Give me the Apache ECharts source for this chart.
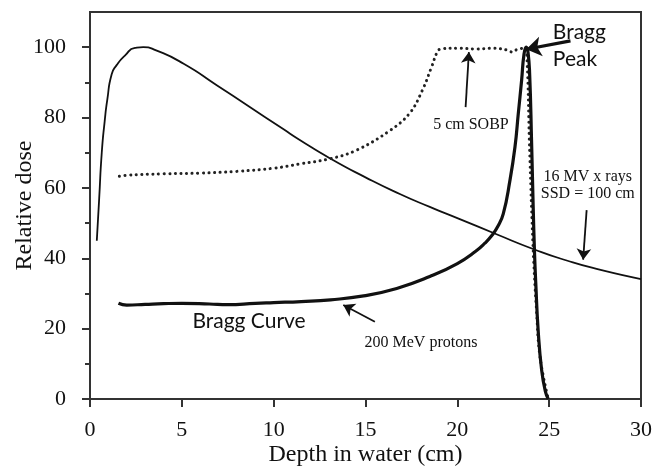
<!DOCTYPE html>
<html><head><meta charset="utf-8">
<script src="https://cdn.jsdelivr.net/npm/echarts@6/dist/echarts.min.js"></script>
<style>html,body{margin:0;padding:0;background:#fff}#c{width:656px;height:469px}</style>
</head><body><div id="c"></div>
<script>
// ---- data ----
const xTicks = [0, 5, 10, 15, 20, 25, 30];
const yTicks = [0, 20, 40, 60, 80, 100];
const yMinorTicks = [10, 30, 50, 70, 90];

// 16 MV x rays, SSD = 100 cm  [depth cm, relative dose]
const xray = [[0.37,45],[0.5,57],[0.64,70],[0.8,79],[0.94,85],[1.18,92.3],[1.45,94.9],[1.9,97.6],[2.45,99.8],[2.9,100],[3.6,99.1],[5.1,95.3],[6.9,89.2],[8.7,83],[10.5,76.8],[11.4,73.7],[13.1,68.3],[15,63],[16.9,58.2],[18.5,54.6],[20.1,51.2],[22.1,46.9],[24.2,42.5],[26,39.3],[27.8,36.7],[30,34.1]];

// 200 MeV protons (Bragg curve)
const proton = [[1.55,27.2],[2,26.7],[3,26.9],[4,27.1],[5,27.2],[6.5,27.0],[7.5,26.8],[9,27.2],[10,27.4],[11.5,27.7],[13.1,28.2],[14.9,29.3],[16.7,31.4],[18.5,34.8],[20,38.5],[21,42],[21.5,44.3],[21.9,46.6],[22.2,49],[22.5,52.6],[22.86,62],[23.14,71.7],[23.32,81.2],[23.5,90.6],[23.63,98],[23.75,100],[23.85,98.5],[23.94,92],[24.04,73.6],[24.13,54.6],[24.2,42],[24.27,33],[24.4,19.6],[24.59,8.2],[24.8,2],[24.95,0]];

// 5 cm SOBP
const sobp = [[1.6,63.3],[2,63.6],[4,64],[6,64.2],[8,64.7],[10,65.6],[11.4,66.8],[13.07,68.3],[14.5,70.7],[16.3,76.2],[17.4,81.2],[18.1,87.8],[18.6,94.4],[18.95,99],[19.2,99.6],[20,99.7],[21,99.5],[22,99.7],[22.7,99.2],[23,98.6],[23.3,99.5],[23.7,99.7],[23.8,96],[23.92,73.6],[24.04,54.6],[24.15,40],[24.3,26],[24.5,12],[24.95,0]];

// annotations in data coordinates
const notes = [
  {text:'Bragg', at:[25.2,104.3], font:'sans', align:'left'},
  {text:'Peak', at:[25.2,96.6], font:'sans', align:'left'},
  {text:'5 cm SOBP', at:[20.74,77.8], font:'serif', align:'center'},
  {text:'16 MV x rays', at:[27.1,63.1], font:'serif', align:'center'},
  {text:'SSD = 100 cm', at:[27.1,58.4], font:'serif', align:'center'},
  {text:'200 MeV protons', at:[18.02,15.9], font:'serif', align:'center'},
  {text:'Bragg Curve', at:[8.66,22.2], font:'sans', align:'center'}
];
const arrows = [
  {from:[26.16,101.8], to:[23.75,99.4], bold:true},
  {from:[20.45,82.95], to:[20.63,98.6]},
  {from:[27.04,53.7], to:[26.85,39.6]},
  {from:[15.51,21.96], to:[13.79,26.7]}
];

const SERIF = "'Liberation Serif','DejaVu Serif',serif";
const SANS = "Lato,'Open Sans',sans-serif";
const AX = '#333';

const chart = echarts.init(document.getElementById('c'), null, {renderer:'canvas'});
chart.setOption({
  animation:false,
  backgroundColor:'#fff',
  grid:{left:90,right:15,top:12,bottom:70,outerBoundsMode:'none',containLabel:false,show:true,borderColor:AX,borderWidth:2,backgroundColor:'transparent'},
  xAxis:{
    type:'value',min:0,max:30,interval:5,
    name:'Depth in water (cm)',nameLocation:'middle',nameGap:44,nameMoveOverlap:false,
    nameTextStyle:{fontFamily:SERIF,fontSize:24,color:'#111'},
    axisLine:{show:true,lineStyle:{color:AX,width:2}},
    axisTick:{show:true,length:8,lineStyle:{color:AX,width:2},customValues:xTicks},
    axisLabel:{fontFamily:SERIF,fontSize:22,color:'#111',margin:20,customValues:xTicks},
    splitLine:{show:false}
  },
  yAxis:[{
    type:'value',min:0,max:110,interval:10,position:'left',
    name:'Relative dose',nameLocation:'middle',nameGap:53,nameRotate:90,nameMoveOverlap:false,
    nameTextStyle:{fontFamily:SERIF,fontSize:24,color:'#111'},
    axisLine:{show:true,lineStyle:{color:AX,width:2}},
    axisTick:{show:true,length:8,lineStyle:{color:AX,width:2},customValues:yTicks},
    axisLabel:{fontFamily:SERIF,fontSize:22,color:'#111',margin:24,customValues:yTicks},
    splitLine:{show:false}
  },{
    type:'value',min:0,max:110,interval:10,position:'left',offset:0,
    axisLine:{show:false},
    axisTick:{show:true,length:5,lineStyle:{color:AX,width:2},customValues:yMinorTicks},
    axisLabel:{show:false},
    splitLine:{show:false}
  }],
  series:[
    {type:'line',name:'xray',data:xray,showSymbol:false,symbol:'none',smooth:0.6,
     lineStyle:{color:'#111',width:1.8},
     markLine:{silent:true,symbol:['none','arrow'],symbolSize:11,label:{show:false},
       lineStyle:{color:'#111',width:1.8,type:'solid'},
       data:arrows.map(a=>[{coord:a.from,lineStyle:{width:a.bold?3.2:1.8}, symbolSize: a.bold?15:11},{coord:a.to, symbolSize: a.bold?15:11}])}},
    {type:'line',name:'sobp',data:sobp,showSymbol:false,symbol:'none',smooth:0.4,
     lineStyle:{color:'#222',width:3,type:[0.1,5.5],cap:'round'}},
    {type:'line',name:'proton',data:proton,showSymbol:false,symbol:'none',smooth:0.5,
     lineStyle:{color:'#111',width:3.2}}
  ]
});
const g = notes.map(n=>{
  const p = chart.convertToPixel({gridIndex:0}, n.at);
  return {type:'text',x:p[0],y:p[1],silent:true,z:100,
    style:{text:n.text,fill:'#111',align:n.align,verticalAlign:'middle',
      fontFamily:n.font==='sans'?SANS:SERIF,fontSize:n.font==='sans'?21:16}};
});
chart.setOption({graphic:g});
</script></body></html>
